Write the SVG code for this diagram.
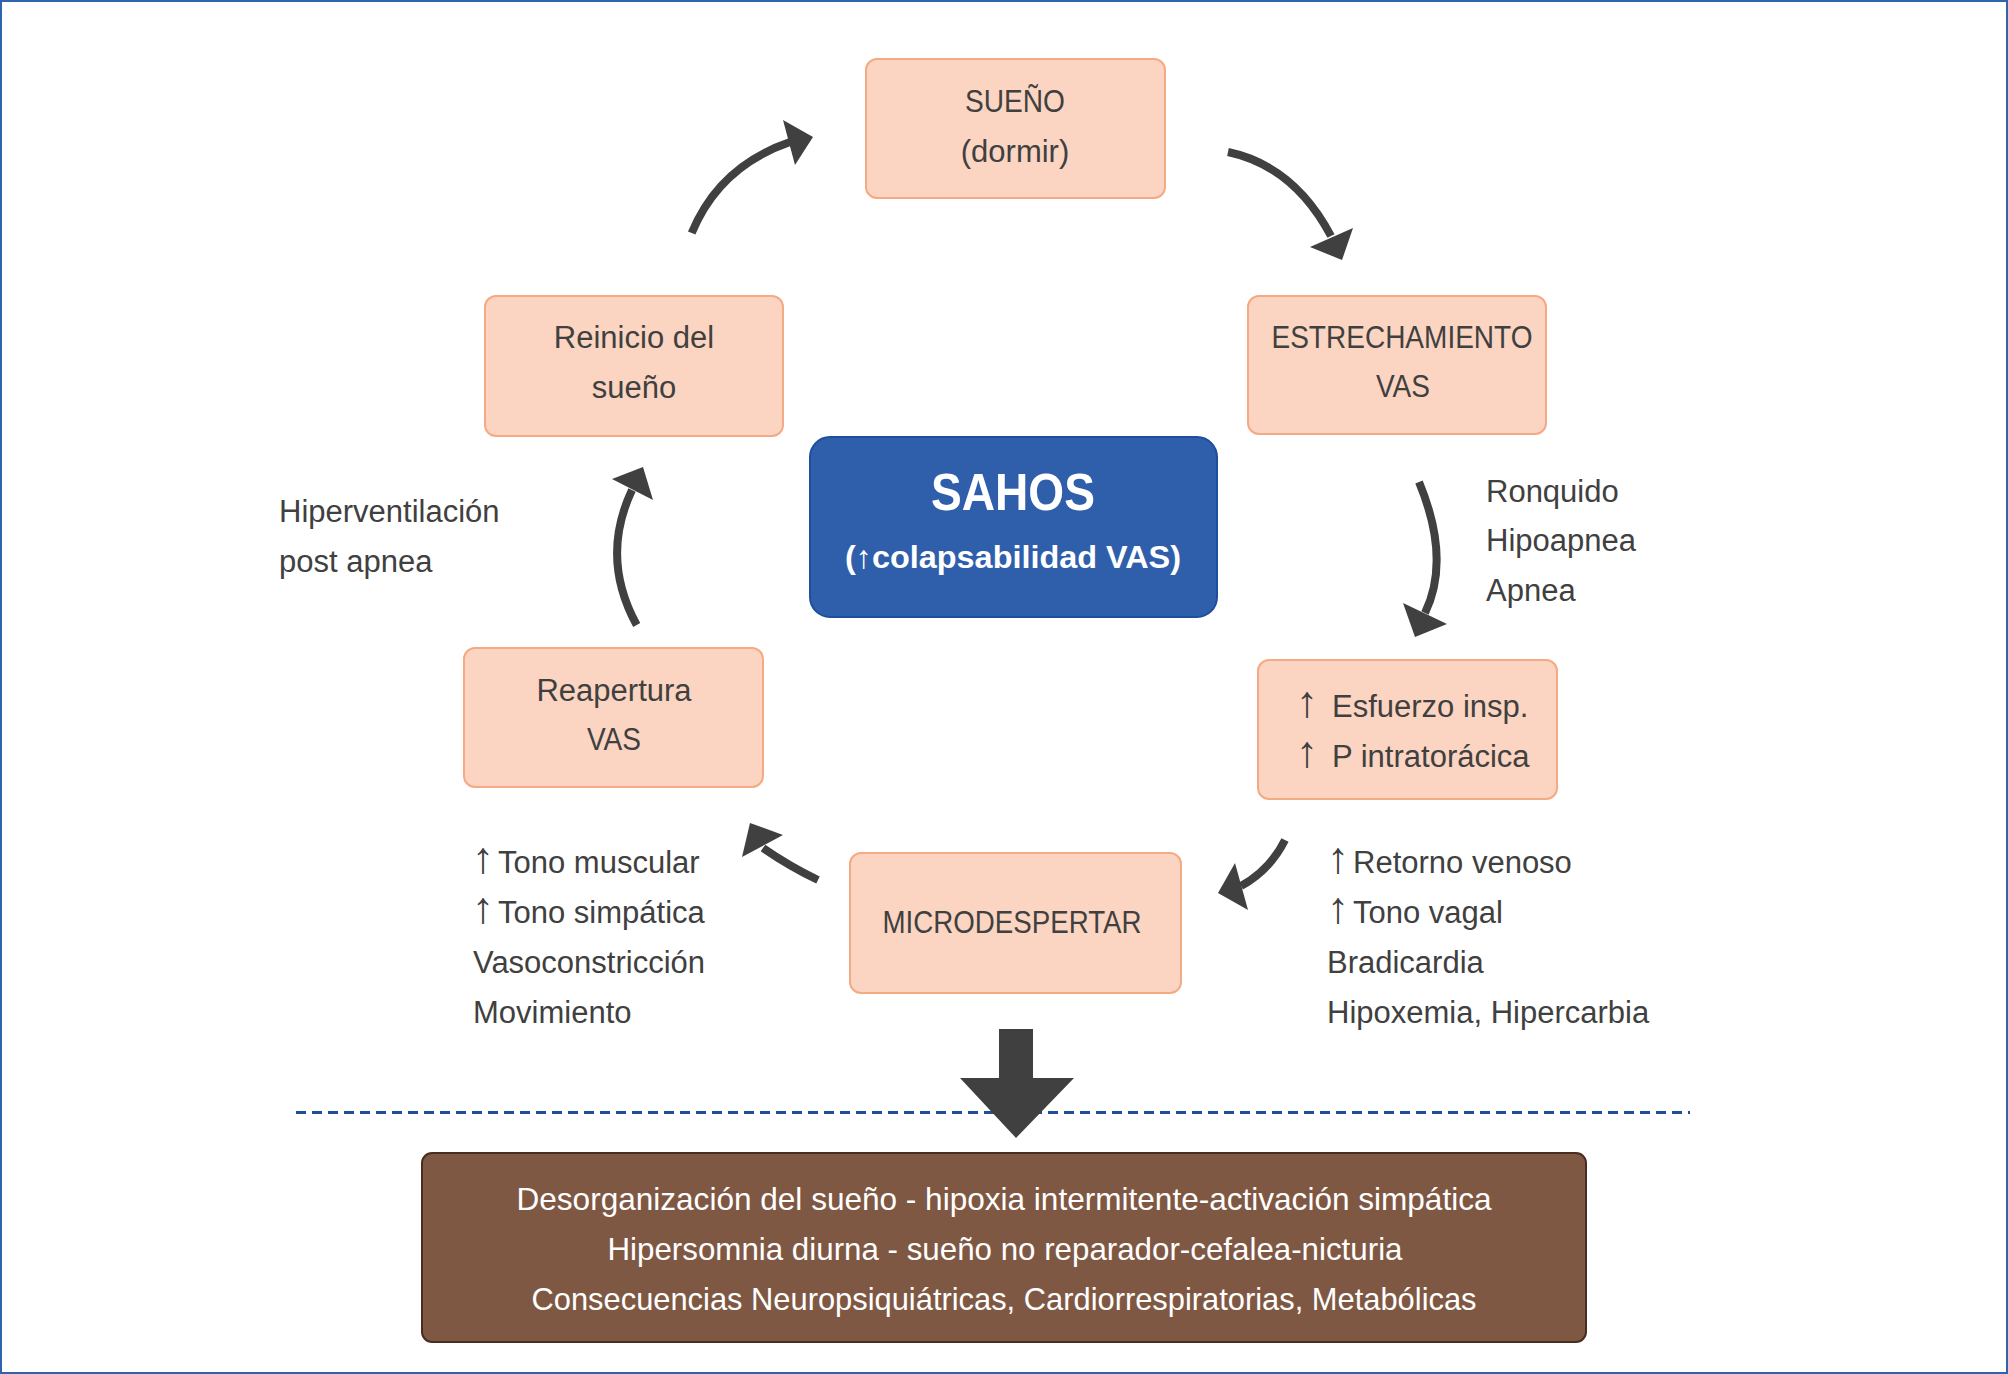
<svg xmlns="http://www.w3.org/2000/svg" width="2008" height="1374" viewBox="0 0 2008 1374">
<style>
text{font-family:"Liberation Sans",Arial,sans-serif;font-size:31px;fill:#404040}
.node{fill:#fbd5c1;stroke:#f5a984;stroke-width:2}
.c{text-anchor:middle}
.conn{fill:none;stroke:#404040;stroke-width:8}
.head{fill:#404040}
.w{fill:#ffffff}
text.big{font-size:52px;font-weight:bold}
text.sub{font-size:32px;font-weight:bold}
text.bot{font-size:32px}
.arr{font-size:44px}
</style>
<rect x="1" y="1" width="2006" height="1372" fill="#ffffff" stroke="#2f63ad" stroke-width="2"/>

<g id="connectors">
<path class="conn" d="M691.7,233 Q719,166.5 790,142"/>
<polygon class="head" points="783,120 813,137 795,165"/>
<path class="conn" d="M1228,152 Q1294,166 1331,236"/>
<polygon class="head" points="1310,247 1353,228 1342,260"/>
<path class="conn" d="M1419,482 Q1451,559 1425,613"/>
<polygon class="head" points="1403,603 1447,624 1415,637"/>
<path class="conn" d="M1285,840 Q1270,870 1241,886"/>
<polygon class="head" points="1235,863 1218,893 1248,910"/>
<path class="conn" d="M818,880 Q789,866 763,848"/>
<polygon class="head" points="750,823 783,835 742,857"/>
<path class="conn" d="M636.7,625 Q600,558 632,490"/>
<polygon class="head" points="612,479 643,467 653,500"/>
<line x1="296" y1="1112.5" x2="1690" y2="1112.5" stroke="#1e4f9c" stroke-width="3" stroke-dasharray="10 6"/>
<polygon class="head" points="999,1029 1033,1029 1033,1078 1074,1078 1016,1138 960,1078 999,1078"/>
</g>

<g id="sueno">
<rect class="node" x="866" y="59" width="299" height="139" rx="11"/>
<text class="c" x="1015" y="112" textLength="100" lengthAdjust="spacingAndGlyphs">SUEÑO</text>
<text class="c" x="1015" y="162">(dormir)</text>
</g>

<g id="estrechamiento">
<rect class="node" x="1248" y="296" width="298" height="138" rx="11"/>
<text class="c" x="1402" y="348" textLength="261" lengthAdjust="spacingAndGlyphs">ESTRECHAMIENTO</text>
<text class="c" x="1403" y="397" textLength="54" lengthAdjust="spacingAndGlyphs">VAS</text>
</g>

<g id="esfuerzo">
<rect class="node" x="1258" y="660" width="299" height="139" rx="11"/>
<text x="1296" y="717"><tspan class="arr" x="1296">↑</tspan> <tspan x="1332">Esfuerzo insp.</tspan></text>
<text x="1296" y="767"><tspan class="arr" x="1296">↑</tspan> <tspan x="1332">P intratorácica</tspan></text>
</g>

<g id="microdespertar">
<rect class="node" x="850" y="853" width="331" height="140" rx="11"/>
<text class="c" x="1012" y="933" textLength="259" lengthAdjust="spacingAndGlyphs">MICRODESPERTAR</text>
</g>

<g id="reapertura">
<rect class="node" x="464" y="648" width="299" height="139" rx="11"/>
<text class="c" x="614" y="701">Reapertura</text>
<text class="c" x="614" y="750" textLength="54" lengthAdjust="spacingAndGlyphs">VAS</text>
</g>

<g id="reinicio">
<rect class="node" x="485" y="296" width="298" height="140" rx="11"/>
<text class="c" x="634" y="348">Reinicio del</text>
<text class="c" x="634" y="398">sueño</text>
</g>

<g id="sahos">
<rect x="810" y="437" width="407" height="180" rx="20" fill="#2f5fab" stroke="#1f4f9c" stroke-width="2"/>
<text class="c w big" x="1013" y="510" textLength="164" lengthAdjust="spacingAndGlyphs">SAHOS</text>
<text class="c w sub" x="1013" y="568" textLength="336" lengthAdjust="spacingAndGlyphs">(↑colapsabilidad VAS)</text>
</g>

<g id="label-ronquido">
<text x="1486" y="502">Ronquido</text>
<text x="1486" y="551">Hipoapnea</text>
<text x="1486" y="601">Apnea</text>
</g>

<g id="label-hiperventilacion">
<text x="279" y="522">Hiperventilación</text>
<text x="279" y="572">post apnea</text>
</g>

<g id="label-retorno">
<text x="1327" y="873"><tspan class="arr" x="1327">↑</tspan><tspan x="1353">Retorno venoso</tspan></text>
<text x="1327" y="923"><tspan class="arr" x="1327">↑</tspan><tspan x="1353">Tono vagal</tspan></text>
<text x="1327" y="973">Bradicardia</text>
<text x="1327" y="1023">Hipoxemia, Hipercarbia</text>
</g>

<g id="label-tono">
<text x="472" y="873"><tspan class="arr" x="472">↑</tspan><tspan x="498">Tono muscular</tspan></text>
<text x="472" y="923"><tspan class="arr" x="472">↑</tspan><tspan x="498">Tono simpática</tspan></text>
<text x="473" y="973">Vasoconstricción</text>
<text x="473" y="1023">Movimiento</text>
</g>

<g id="consecuencias">
<rect x="422" y="1153" width="1164" height="189" rx="10" fill="#7f5844" stroke="#4a2c20" stroke-width="2"/>
<text class="c w bot" x="1004" y="1210" textLength="975" lengthAdjust="spacingAndGlyphs">Desorganización del sueño - hipoxia intermitente-activación simpática</text>
<text class="c w bot" x="1005" y="1260" textLength="795" lengthAdjust="spacingAndGlyphs">Hipersomnia diurna - sueño no reparador-cefalea-nicturia</text>
<text class="c w bot" x="1004" y="1310" textLength="945" lengthAdjust="spacingAndGlyphs">Consecuencias Neuropsiquiátricas, Cardiorrespiratorias, Metabólicas</text>
</g>
</svg>
